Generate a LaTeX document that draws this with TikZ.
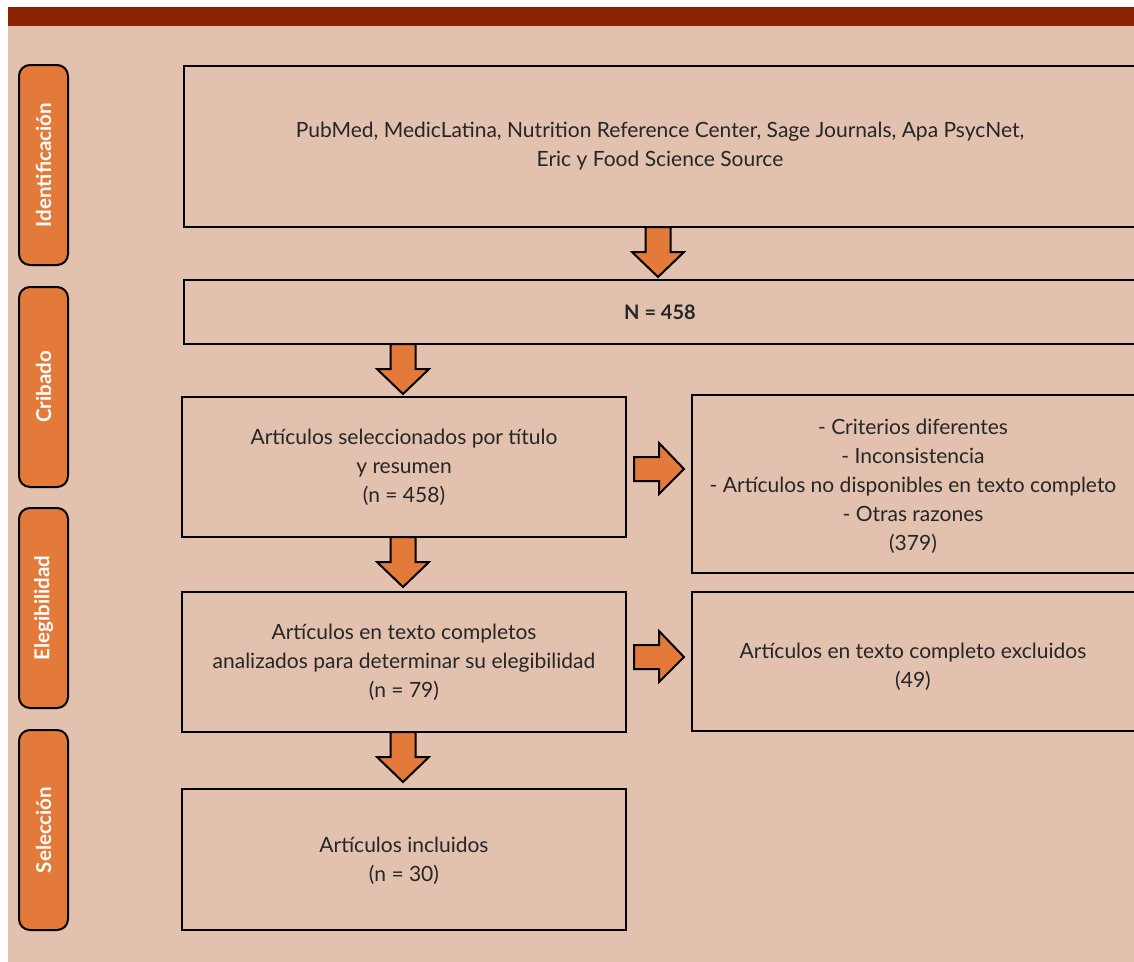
\documentclass[tikz,border=0pt]{standalone}
\usepackage{fontspec}
\setmainfont{Lato}
\definecolor{bgc}{HTML}{E2C1AE}
\definecolor{barc}{HTML}{8A2300}
\definecolor{orc}{HTML}{E37A3A}
\tikzset{
  box/.style={draw=black, line width=2.2pt, fill=none},
  phase/.style={draw=black, line width=2pt, fill=orc, rounded corners=11pt,
     minimum width=49pt, minimum height=200pt, inner sep=0pt},
  phasetext/.style={text=white, font=\fontsize{20.5}{24}\selectfont\bfseries, rotate=90},
  txt/.style={align=center, font=\fontsize{21}{29}\selectfont, text=black!85},
  blockarrow/.style={draw=black, line width=2pt, fill=orc, line join=miter},
}
\newcommand\blockdown[1]{\draw[blockarrow] ([shift={(-12.5,0)}]#1) -- ++(0,25) -- ++(-13.5,0) -- ++(26,25) -- ++(26,-25) -- ++(-13.5,0) -- ++(0,-25) -- cycle;}
\newcommand\blockright[1]{\draw[blockarrow] ([shift={(0,-12)}]#1) -- ++(25,0) -- ++(0,-14) -- ++(25,26) -- ++(-25,25) -- ++(0,-13) -- ++(-25,0) -- cycle;}
\begin{document}
\begin{tikzpicture}[x=1pt,y=-1pt]
\useasboundingbox (0,0) rectangle (1134,961);
\clip (0,0) rectangle (1134,961);
\fill[bgc] (8,7) rectangle (1140,965);
\fill[barc] (8,7) rectangle (1140,26);
% phase labels
\node[phase] (p1) at (43.5,165) {};
\node[phasetext] at (p1) {Identificación};
\node[phase] (p2) at (43.5,387) {};
\node[phasetext] at (p2) {Cribado};
\node[phase] (p3) at (43.5,608) {};
\node[phasetext] at (p3) {Elegibilidad};
\node[phase] (p4) at (43.5,830) {};
\node[phasetext] at (p4) {Selección};
% boxes
\draw[box] (184,66) rectangle (1137,227);
\coordinate (b1) at (660,146.5);
\node[txt] at (b1) {PubMed, MedicLatina, Nutrition Reference Center, Sage Journals, Apa PsycNet,\\ Eric y Food Science Source};
\coordinate (b1s) at (658,227);
\draw[box] (184,280) rectangle (1137,344);
\node[txt, font=\fontsize{20}{29}\selectfont\bfseries] (b2) at (660,312) {N = 458};
\coordinate (b2s) at (403,344);
\draw[box] (182,397) rectangle (626,537);
\node[txt] (b3) at (404,467) {Artículos seleccionados por título\\ y resumen\\ (n = 458)};
\draw[box] (692,395) rectangle (1137,573);
\node[txt] (r1) at (913,486) {- Criterios diferentes\\ - Inconsistencia\\ - Artículos no disponibles en texto completo\\ - Otras razones\\ (379)};
\draw[box] (182,592) rectangle (626,732);
\node[txt] (b4) at (404,662) {Artículos en texto completos\\ analizados para determinar su elegibilidad\\ (n = 79)};
\draw[box] (692,592) rectangle (1137,731);
\node[txt] (r2) at (913,667) {Artículos en texto completo excluidos\\ (49)};
\draw[box] (182,789) rectangle (626,930);
\node[txt] (b5) at (404,861) {Artículos incluidos\\ (n = 30)};
% arrows
\blockdown{b1s}
\blockdown{b2s}
\coordinate (b3s) at (403,537);
\blockdown{b3s}
\coordinate (b4s) at (403,732);
\blockdown{b4s}
\coordinate (a1) at (634,469);
\blockright{a1}
\coordinate (a2) at (634,657);
\blockright{a2}
\end{tikzpicture}
\end{document}
